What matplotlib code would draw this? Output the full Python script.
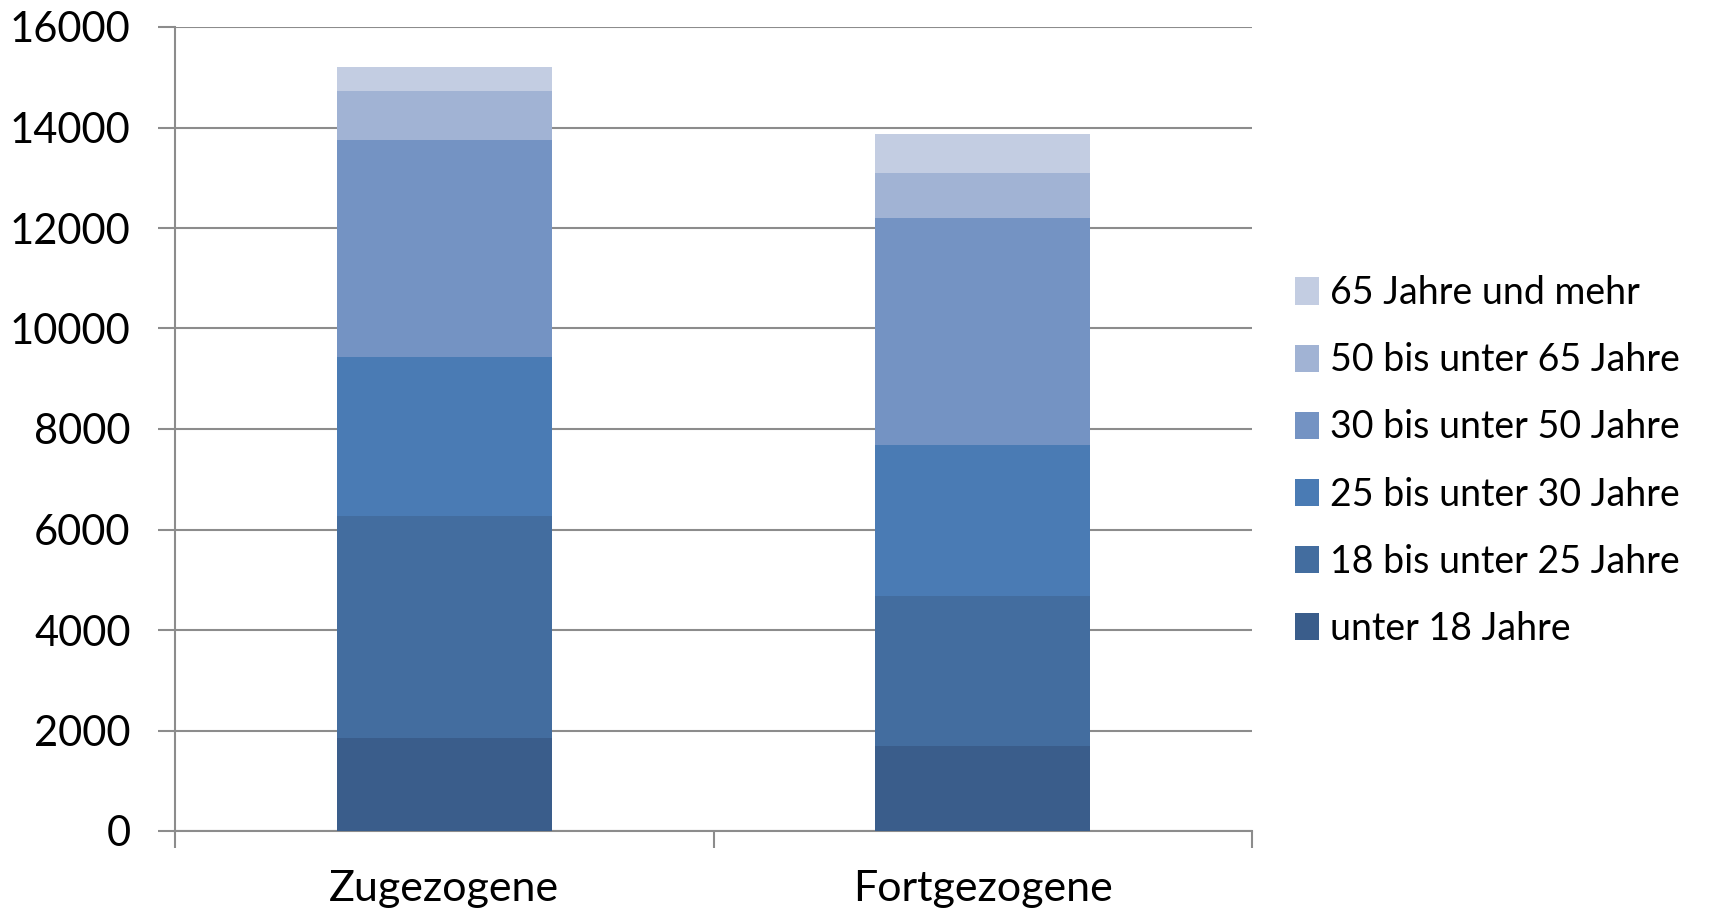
import numpy as np
import matplotlib
matplotlib.use("Agg")
import matplotlib.pyplot as plt
import matplotlib.patheffects as pe

categories = ["Zugezogene", "Fortgezogene"]
groups = ["unter 18 Jahre", "18 bis unter 25 Jahre", "25 bis unter 30 Jahre",
          "30 bis unter 50 Jahre", "50 bis unter 65 Jahre", "65 Jahre und mehr"]
unter18 = [1850, 1700]
j18_25 = [4420, 2980]
j25_30 = [3160, 3010]
j30_50 = [4330, 4500]
j50_65 = [965, 905]
j65plus = [475, 780]
values = [unter18, j18_25, j25_30, j30_50, j50_65, j65plus]
colors = ["#3A5D8B", "#436D9F", "#4A7BB4", "#7493C3", "#A1B3D4", "#C3CDE2"]

plt.rcParams['font.family'] = ['Lato', 'DejaVu Sans']

fig = plt.figure(figsize=(17.09, 9.16), dpi=100)
ax = fig.add_axes([175/1709, 1-831/916, (1252-175)/1709, (831-27)/916])

x = np.arange(len(categories))
bottom = np.zeros(len(categories))
shadow = [pe.SimplePatchShadow(offset=(3, -2), shadow_rgbFace="#999999", alpha=0.35), pe.Normal()]
for name, vals, col in zip(groups, values, colors):
    bars = ax.bar(x, vals, width=0.4, bottom=bottom, color=col, label=name, zorder=3)
    for b in bars:
        b.set_path_effects(shadow)
    bottom += np.array(vals)

ax.set_xlim(-0.5, 1.5)
ax.set_ylim(0, 16000)
ax.set_yticks(np.arange(0, 16001, 2000))
ax.yaxis.grid(True, color="#8c8c8c", linewidth=1.5, zorder=0)
ax.set_axisbelow(True)

ax.set_xticks([-0.5, 0.5, 1.5], minor=False)
ax.set_xticklabels([])
ax.set_xticks(x, minor=True)
ax.set_xticklabels(categories, minor=True, fontsize=31)
ax.tick_params(axis="x", which="minor", length=0, pad=28)
ax.tick_params(axis="x", which="major", length=12, width=1.5, color="#8c8c8c")
ax.tick_params(axis="y", length=12, width=1.5, color="#8c8c8c", labelsize=30, pad=20)

for s in ["top", "right"]:
    ax.spines[s].set_visible(False)
ax.spines["left"].set_color("#8c8c8c")
ax.spines["left"].set_linewidth(1.5)
ax.spines["bottom"].set_color("#8c8c8c")
ax.spines["bottom"].set_linewidth(1.5)

handles, labels = ax.get_legend_handles_labels()
for h in handles:
    for p in h:
        p.set_path_effects([])
leg = fig.legend(handles[::-1], labels[::-1], loc="center left",
                 bbox_to_anchor=(1261/1709, 1-461/916), frameon=False,
                 fontsize=27, handlelength=0.65, handleheight=0.75,
                 handletextpad=0.3, labelspacing=0.83)

fig.savefig("out.png", dpi=100)
